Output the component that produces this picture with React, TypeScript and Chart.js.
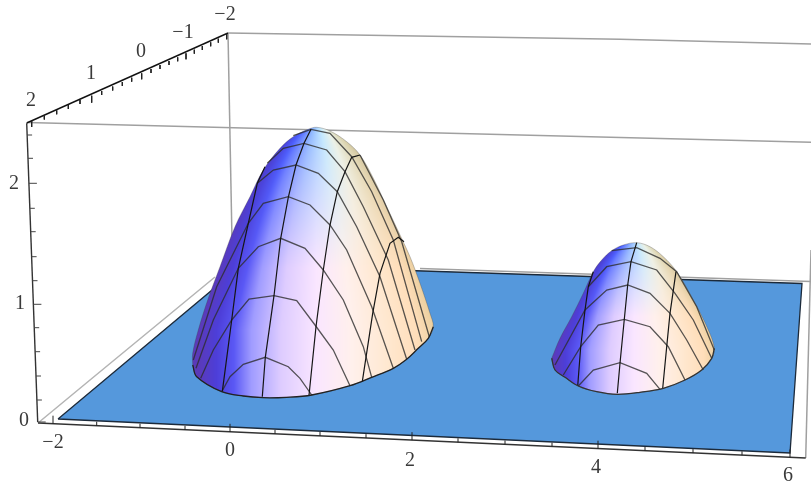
import React, { useEffect, useRef } from "react";
import { Chart, registerables } from "chart.js";

Chart.register(...registerables);

type P = [number, number];

// Projected picture-plane readings (horizontal, vertical) of the 3D plot
const planeOutline: P[] = [[58, 419], [242, 265], [802, 283.5], [790, 453]];
const boxBackTop: P[] = [[228, 33], [620, 39.3], [811, 44]];
const boxFrontTop: P[] = [[27, 122.5], [450, 133.3], [811, 142.3]];
const boxBackLeft: P[] = [[228, 33], [232, 240]];
const boxFloorLeft: P[] = [[38, 423], [90, 380], [215, 277]];
const boxFloorBack: P[] = [[420, 268.5], [811, 281.5]];
const boxRight: P[] = [[805.7, 458], [811, 250]];
const axisFront: P[] = [[38, 423], [805.7, 458]];
const axisDepth: P[] = [[26.7, 123], [228, 33]];
const axisHeight: P[] = [[26.7, 123.3], [37.7, 422]];

const frontTicks: number[] = [53, 96.7, 140, 185, 230, 275, 320, 366, 412, 458, 505, 552, 598, 645, 693, 742, 790];
const frontTickY: number[] = [423.7, 425.7, 427.7, 429.8, 431.8, 433.9, 436, 438.1, 440.2, 442.3, 444.5, 446.6, 448.7, 450.9, 453.1, 455.3, 457.5];
const frontTickLen: number[] = [8, 4, 4, 4, 8, 4, 4, 4, 8, 4, 4, 4, 8, 4, 4, 4, 8];

const depthTickX: number[] = [31.7, 44.3, 56.7, 68.3, 80, 91.7, 101.7, 112.7, 122.3, 131.7, 141.7, 151, 160, 169, 177.7, 186, 194.3, 202.3, 210.7, 218.3, 226.7];
const depthTickY: number[] = [121, 115.5, 110.3, 105, 100, 95.7, 91, 86.5, 82, 77.7, 73.3, 69, 65, 61, 57.3, 53.3, 49.7, 46, 42.3, 38.7, 33.3];
const depthTickLen: number[] = [6, 4, 4, 4, 4, 7, 4, 4, 4, 4, 6, 4, 4, 4, 4, 6, 4, 4, 4, 4, 6];

const heightTickX: number[] = [27.1, 28, 28.9, 29.8, 30.7, 31.6, 32.5, 33.4, 34.2, 35.1, 36, 36.9, 37.7];
const heightTickY: number[] = [135, 158.3, 183.3, 208.3, 231.7, 256.7, 280.7, 304.3, 327.7, 351.7, 376, 400, 422];
const heightTickLen: number[] = [5, 5, 8, 5, 5, 5, 5, 8, 5, 5, 5, 5, 8];

const tickLabels: string[] = ["\u22122", "0", "2", "4", "6", "2", "1", "0", "\u22121", "\u22122", "0", "1", "2"];
const tickLabelX: number[] = [53, 230, 410, 596, 788, 31, 91, 141, 183, 225, 24, 20, 14];
const tickLabelY: number[] = [443, 451, 461, 468, 476, 101, 74, 52, 33, 15, 421, 304, 184];

const bigOutline: P[] = [[192.7, 365], [196.7, 376.7], [221.7, 391.7], [243.3, 396], [263.3, 397.7], [286.7, 397.3], [311.7, 395], [350, 385.7], [371.7, 377.3], [393.3, 368.3], [406.7, 359.3], [418.3, 348.3], [428.3, 338.3], [433.3, 326.7], [430, 313.3], [420, 283.3], [410, 256.7], [400, 235], [386.7, 206.7], [373.3, 178.3], [360, 155], [346.7, 141.7], [330, 131], [316.7, 127.3], [308.3, 129.3], [293.3, 136.7], [280, 148.3], [263.3, 170], [250, 196.7], [235, 226.7], [220, 266.7], [208.3, 298.3], [198.3, 330], [192.7, 353.3], [192.7, 365]];
const bigBase: P[] = [[192.7, 365], [196.7, 376.7], [221.7, 391.7], [243.3, 396], [263.3, 397.7], [286.7, 397.3], [311.7, 395], [350, 385.7], [371.7, 377.3], [393.3, 368.3], [406.7, 359.3], [418.3, 348.3], [428.3, 338.3], [433.3, 326.7]];

const bigMeridians: P[][] = [
  [[262.3, 396.7], [265.3, 357.3], [274, 295.7], [280.7, 238.3], [288.3, 197.3], [296, 165], [304, 143.3], [311, 129.3]],
  [[309, 395.3], [316, 326.7], [323.3, 270], [330, 225], [337.3, 191.7], [345, 171.7], [351.7, 157.3], [360, 155]],
  [[362.3, 381.7], [372.7, 313.3], [380, 273.3], [390, 243.3], [398.3, 237.3], [404, 241.7]],
  [[222.3, 391.7], [231.7, 320], [238.3, 268.3], [248.3, 223.3], [257.3, 183.3], [265, 166.7]],
];
const bigParallels: P[][] = [
  [[221.7, 391.7], [230, 376.7], [243.3, 364.3], [265.3, 357.3], [288.3, 366.7], [300, 378.3], [311.7, 395]],
  [[200.7, 378.3], [213.3, 350], [231.7, 320], [249, 299], [274, 295.7], [296.7, 300.7], [315, 325], [333.3, 350], [350, 385.7]],
  [[196, 368.3], [213.3, 320], [238.3, 268.3], [258.3, 246.7], [280.7, 238.3], [305, 248.3], [323.3, 270], [343.3, 300], [363.3, 346.7], [371.7, 377.3]],
  [[193.3, 360], [216.7, 286.7], [248.3, 223.3], [263.3, 203.3], [288.3, 196.7], [310, 205], [330, 225], [346.7, 250], [371.7, 306.7], [393.3, 368.3]],
  [[257.3, 183.3], [273.3, 170], [296, 165], [318.3, 173.3], [337.3, 191.7], [356.7, 226.7], [380, 276.7], [406.7, 359.3]],
  [[267.3, 163.3], [283.3, 148.3], [304, 143.3], [326.7, 150], [345, 171.7], [363.3, 206.7], [388.3, 260], [415, 350]],
  [[293.3, 135.7], [311, 129.3], [330, 133.3], [351.7, 156.7], [371.7, 191.7], [393.3, 240], [421.7, 341.7]],
  [[360, 155], [383.3, 200], [401.7, 241.7], [429.3, 336.7]],
];

const smallOutline: P[] = [[551.7, 358.3], [555, 370], [565, 377.3], [578.3, 386], [596.7, 391.7], [617.3, 394.3], [640, 392.3], [663.3, 388.3], [685, 380], [701.7, 370], [711.7, 358.3], [714.3, 348.3], [708.3, 330], [693.3, 300], [676.7, 271.7], [663.3, 256.7], [650, 246.7], [636.7, 242.7], [623.3, 245], [611.7, 250.7], [601.7, 260], [593.3, 271.7], [583.3, 293.3], [571.7, 316.7], [560, 338.3], [551.7, 358.3]];
const smallBase: P[] = [[551.7, 358.3], [555, 370], [565, 377.3], [578.3, 386], [596.7, 391.7], [617.3, 394.3], [640, 392.3], [663.3, 388.3], [685, 380], [701.7, 370], [711.7, 358.3], [714.3, 348.3]];

const smallMeridians: P[][] = [
  [[617.3, 393.3], [620, 363.3], [624.3, 319.3], [627.7, 285], [631, 261.7], [636.7, 242.7]],
  [[662.7, 388.3], [666.7, 346.7], [670, 313.3], [676, 271.7]],
  [[577.7, 386], [580.7, 346.7], [585, 310], [588.3, 286.7], [593.3, 271.7]],
];
const smallParallels: P[][] = [
  [[578.3, 386], [593.3, 370], [620, 362.7], [646.7, 373.3], [660, 389.3]],
  [[563.3, 375], [580.7, 346.7], [598.3, 325], [624.3, 319.3], [650, 326.7], [668.3, 346.7], [685, 380]],
  [[555, 365], [585, 310], [606.7, 290], [627.7, 285], [650, 293.3], [670, 313.3], [686.7, 340], [703.3, 370]],
  [[588.3, 286.7], [606.7, 266.7], [631, 261.7], [656.7, 270], [675, 293.3], [693.3, 320], [711.7, 358.3]],
  [[611.7, 250.7], [636.7, 247.7], [660, 258.3], [676.7, 271.7], [696.7, 306.7], [714.3, 350]],
];

const lowerStops: [number, number[]][] = [
  [-1, [91, 58, 184]], [-0.85, [77, 62, 216]], [-0.7, [90, 88, 245]], [-0.55, [160, 156, 255]],
  [-0.3, [222, 204, 255]], [0, [250, 230, 255]], [0.3, [255, 240, 236]], [0.6, [255, 232, 208]],
  [0.85, [255, 222, 186]], [1, [236, 208, 160]],
];
const upperStops: [number, number[]][] = [
  [-1, [74, 56, 200]], [-0.65, [74, 96, 255]], [-0.2, [140, 184, 255]], [0.2, [191, 232, 255]],
  [0.5, [232, 242, 234]], [0.8, [216, 212, 176]], [1, [196, 188, 150]],
];

function ramp(stops: [number, number[]][], u: number): number[] {
  for (let i = 1; i < stops.length; i++) {
    if (u <= stops[i][0]) {
      const [a, ca] = stops[i - 1];
      const [b, cb] = stops[i];
      const f = (u - a) / (b - a);
      return ca.map((c, k) => c + (cb[k] - c) * f);
    }
  }
  return stops[stops.length - 1][1];
}

function shadeTexture(width: number, height: number): HTMLCanvasElement {
  const off = document.createElement("canvas");
  off.width = width;
  off.height = height;
  const g = off.getContext("2d")!;
  const img = g.createImageData(width, height);
  const domes = [
    { x0: 185, x1: 440, cx: 316, top: 125, h: 205, w: 118 },
    { x0: 545, x1: 720, cx: 634, top: 240, h: 110, w: 81 },
  ];
  for (const d of domes) {
    for (let y = d.top; y < 400; y++) {
      const t = Math.min(1, (y - d.top + 1) / d.h);
      const wy = d.w * Math.sqrt(t);
      const mix = Math.max(0, 1 - t / 0.7);
      for (let x = d.x0; x < d.x1; x++) {
        const u = Math.max(-1, Math.min(1, (x - d.cx) / wy));
        const lo = ramp(lowerStops, u);
        const up = ramp(upperStops, u);
        const o = (y * width + x) * 4;
        for (let k = 0; k < 3; k++) img.data[o + k] = lo[k] + (up[k] - lo[k]) * mix;
        img.data[o + 3] = 255;
      }
    }
  }
  g.putImageData(img, 0, 0);
  return off;
}

const toPts = (line: P[]) => line.map(([x, y]) => ({ x, y }));

function tickPts(xs: number[], ys: number[], lens: number[], dir: "up" | "down" | "right") {
  const out: { x: number; y: number }[] = [];
  xs.forEach((x, i) => {
    const y = ys[i];
    const l = lens[i];
    out.push({ x, y });
    if (dir === "up") out.push({ x, y: y - l });
    if (dir === "down") out.push({ x, y: y + l });
    if (dir === "right") out.push({ x: x + l, y });
    out.push({ x: NaN, y: NaN });
  });
  return out;
}

const stroke = (line: any[], color: string, width = 1, extra: any = {}) => ({
  data: Array.isArray(line[0]) ? toPts(line as P[]) : line,
  borderColor: color,
  borderWidth: width,
  pointRadius: 0,
  showLine: true,
  fill: false,
  tension: 0,
  spanGaps: false,
  clip: false,
  ...extra,
});

const polygonFill = {
  id: "polygonFill",
  beforeDatasetDraw(chart: any, args: any) {
    const ds = chart.data.datasets[args.index];
    if (!ds.areaFill) return;
    const ctx = chart.ctx;
    ctx.save();
    ctx.beginPath();
    args.meta.dataset.path(ctx);
    ctx.closePath();
    ctx.fillStyle = ds.areaFill;
    ctx.fill();
    ctx.restore();
  },
};

const axisText = {
  id: "axisText",
  afterDraw(chart: any) {
    const { ctx, scales } = chart;
    ctx.save();
    ctx.font = '20px "Liberation Serif"';
    ctx.fillStyle = "#3a3a3a";
    ctx.textAlign = "center";
    ctx.textBaseline = "middle";
    tickLabels.forEach((t, i) => {
      ctx.fillText(t, scales.x.getPixelForValue(tickLabelX[i]), scales.y.getPixelForValue(tickLabelY[i]));
    });
    ctx.restore();
  },
};

export default function App() {
  const ref = useRef<HTMLCanvasElement>(null);
  useEffect(() => {
    const canvas = ref.current!;
    const ctx = canvas.getContext("2d")!;
    const tex = ctx.createPattern(shadeTexture(811, 482), "no-repeat")!;
    const GRAY = "#a0a0a0";
    const WIRE = "rgba(45,45,45,0.8)";
    const list: any[] = [
      stroke(boxBackTop, GRAY, 1.5),
      stroke(boxFrontTop, GRAY, 1.5),
      stroke(boxBackLeft, GRAY, 1.5),
      stroke(boxFloorLeft, "#b4b4b4", 1.5),
      stroke(boxFloorBack, GRAY, 1.5),
      stroke(boxRight, GRAY, 1.5),
      stroke(planeOutline, "#1c2a3a", 1.3, { areaFill: "#5598dc", data: toPts([...planeOutline, planeOutline[0]]) }),
      stroke(axisFront, "#333", 1.3),
      stroke(axisDepth, "#111", 1.4),
      stroke(axisHeight, "#333", 1.4),
      stroke(tickPts(frontTicks, frontTickY, frontTickLen, "up"), "#222"),
      stroke(tickPts(depthTickX, depthTickY, depthTickLen, "down"), "#222"),
      stroke(tickPts(heightTickX, heightTickY, heightTickLen, "right"), "#444"),
      stroke(bigOutline, "rgba(60,60,60,0.3)", 1, { areaFill: tex, tension: 0.35 }),
      ...bigParallels.map((l) => stroke(l, WIRE, 1.3)),
      ...bigMeridians.map((l) => stroke(l, "#151515", 1.2)),
      stroke(bigBase, "#222", 1.3, { tension: 0.35 }),
      stroke(smallOutline, "rgba(60,60,60,0.3)", 1, { areaFill: tex, tension: 0.35 }),
      ...smallParallels.map((l) => stroke(l, WIRE, 1.3)),
      ...smallMeridians.map((l) => stroke(l, "#151515", 1.2)),
      stroke(smallBase, "#333", 1.3, { tension: 0.35 }),
    ];
    list.forEach((d, i) => (d.order = list.length - i));
    const chart = new Chart(canvas, {
      type: "scatter",
      data: { datasets: list },
      options: {
        animation: false,
        responsive: false,
        layout: { padding: 0 },
        plugins: { legend: { display: false }, tooltip: { enabled: false } },
        events: [],
        scales: {
          x: { type: "linear", min: 0, max: 811, display: false },
          y: { type: "linear", min: 0, max: 482, reverse: true, display: false },
        },
      },
      plugins: [polygonFill, axisText],
    } as any);
    return () => chart.destroy();
  }, []);
  return (
    <canvas
      ref={ref}
      width={811}
      height={482}
      style={{ position: "fixed", left: 0, top: 0, width: 811, height: 482, background: "#fff" }}
    />
  );
}
